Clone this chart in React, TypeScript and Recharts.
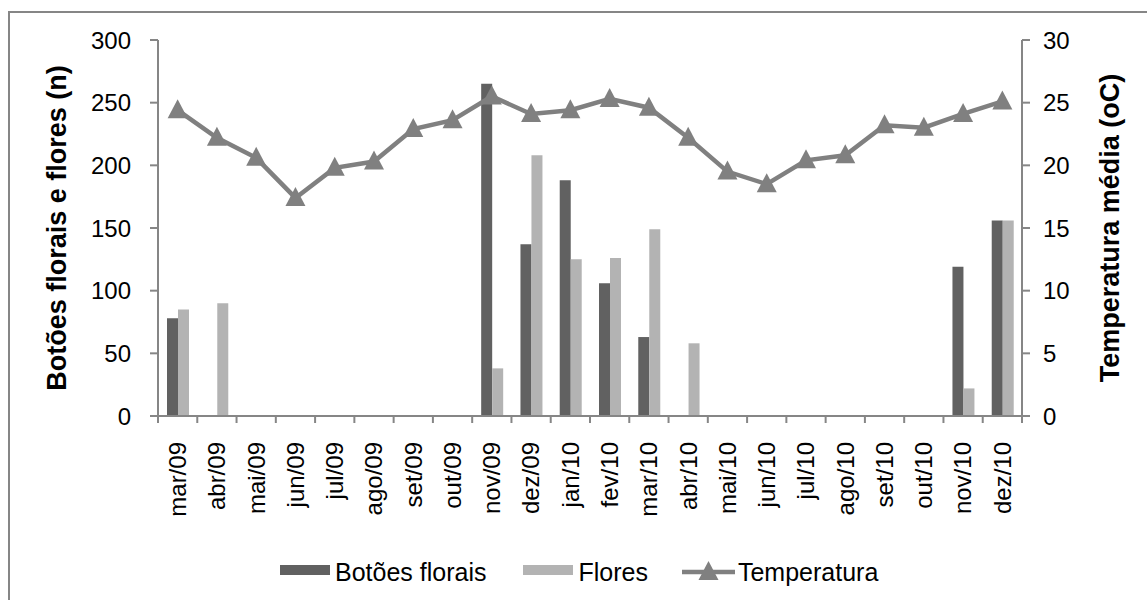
import React from 'react';
import { ComposedChart, Bar, Line, XAxis, YAxis, Legend, Label } from 'recharts';

// Monthly counts of floral buds and flowers, with mean monthly temperature
const months = [
  'mar/09', 'abr/09', 'mai/09', 'jun/09', 'jul/09', 'ago/09', 'set/09', 'out/09', 'nov/09', 'dez/09',
  'jan/10', 'fev/10', 'mar/10', 'abr/10', 'mai/10', 'jun/10', 'jul/10', 'ago/10', 'set/10', 'out/10',
  'nov/10', 'dez/10',
];
const botoesFlorais = [78, 0, 0, 0, 0, 0, 0, 0, 265, 137, 188, 106, 63, 0, 0, 0, 0, 0, 0, 0, 119, 156];
const flores = [85, 90, 0, 0, 0, 0, 0, 0, 38, 208, 125, 126, 149, 58, 0, 0, 0, 0, 0, 0, 22, 156];
const temperatura = [
  24.4, 22.2, 20.6, 17.4, 19.8, 20.3, 22.9, 23.6, 25.5, 24.1, 24.4, 25.3,
  24.6, 22.2, 19.5, 18.5, 20.4, 20.8, 23.2, 23.0, 24.1, 25.1,
];
const countTicks = [0, 50, 100, 150, 200, 250, 300];
const tempTicks = [0, 5, 10, 15, 20, 25, 30];

const data = months.map((mes, i) => ({
  mes,
  botoes: botoesFlorais[i],
  flores: flores[i],
  temperatura: temperatura[i],
}));

const FONT = '"Liberation Sans", Arial, Helvetica, sans-serif';
const AXIS = '#868686';
const DARK = '#616161';
const LIGHT = '#b3b3b3';
const LINE = '#808080';

function Triangle(props: any) {
  const { cx, cy, index } = props;
  if (cx == null || cy == null) return <g key={`t-${index}`} />;
  return (
    <path
      key={`t-${index}`}
      d={`M${cx},${cy - 11} L${cx + 10},${cy + 8} L${cx - 10},${cy + 8} Z`}
      fill={LINE}
    />
  );
}

// Category label rotated 90°, with tick marks on the category boundaries
function MonthTick(props: any) {
  const { x, y, payload, index, visibleTicksCount } = props;
  const half = payload && payload.offset ? payload.offset : 0;
  const isLast = index === visibleTicksCount - 1;
  const ty = y + 26;
  return (
    <g>
      <line x1={x - half} y1={y} x2={x - half} y2={y + 7} stroke={AXIS} strokeWidth={2} />
      {isLast && <line x1={x + half} y1={y} x2={x + half} y2={y + 7} stroke={AXIS} strokeWidth={2} />}
      <text
        x={x}
        y={ty}
        transform={`rotate(-90, ${x}, ${ty})`}
        textAnchor="end"
        dy="0.35em"
        fontSize={24}
        fontFamily={FONT}
        fill="#000"
      >
        {payload.value}
      </text>
    </g>
  );
}

function LegendContent(props: any) {
  const payload = props.payload || [];
  const icon = (entry: any) => {
    if (entry.type === 'line') {
      return (
        <svg width={53} height={24} style={{ display: 'block' }}>
          <line x1={0} y1={12} x2={53} y2={12} stroke={LINE} strokeWidth={4.5} />
          <path d="M26.5,1 L36.5,20 L16.5,20 Z" fill={LINE} />
        </svg>
      );
    }
    return <div style={{ width: 50, height: 10, background: entry.color, marginTop: -5 }} />;
  };
  return (
    <div
      style={{
        display: 'flex',
        alignItems: 'center',
        height: 40,
        paddingLeft: 280,
        fontFamily: FONT,
        fontSize: 25,
        color: '#000',
      }}
    >
      {payload.map((entry: any, i: number) => (
        <div
          key={entry.value}
          style={{ display: 'flex', alignItems: 'center', marginRight: i === 0 ? 37 : 34 }}
        >
          {icon(entry)}
          <span style={{ marginLeft: entry.type === 'line' ? 3 : 5, lineHeight: '40px' }}>{entry.value}</span>
        </div>
      ))}
    </div>
  );
}

export default function App() {
  return (
    <div
      style={{
        position: 'absolute',
        left: 0,
        top: 0,
        width: 1147,
        height: 600,
        overflow: 'hidden',
        background: '#fff',
      }}
    >
      <div
        style={{
          position: 'absolute',
          left: 8,
          top: 11,
          width: 1200,
          height: 700,
          border: `2px solid ${AXIS}`,
          boxSizing: 'border-box',
        }}
      />
      <div style={{ position: 'absolute', left: 0, top: 0 }}>
        <ComposedChart
          width={1147}
          height={600}
          data={data}
          margin={{ top: 40, right: 0, left: 0, bottom: 8 }}
          barSize={11}
          barGap={0}
        >
          <XAxis
            dataKey="mes"
            xAxisId="x"
            interval={0}
            height={136}
            tickSize={0}
            tickMargin={0}
            tickLine={false}
            axisLine={{ stroke: AXIS, strokeWidth: 2 }}
            tick={<MonthTick />}
          />
          <YAxis
            yAxisId="n"
            orientation="left"
            width={158}
            domain={[0, 300]}
            ticks={countTicks}
            interval={0}
            tickSize={8}
            tickMargin={19}
            axisLine={{ stroke: AXIS, strokeWidth: 2 }}
            tickLine={{ stroke: AXIS, strokeWidth: 2 }}
            tick={{ fontSize: 24, fill: '#000', fontFamily: FONT }}
          >
            <Label
              value="Botões florais e flores (n)"
              angle={-90}
              position="center"
              dx={-23}
              style={{ fontSize: 27, fontWeight: 700, fill: '#000', fontFamily: FONT }}
            />
          </YAxis>
          <YAxis
            yAxisId="t"
            orientation="right"
            width={125}
            domain={[0, 30]}
            ticks={tempTicks}
            interval={0}
            tickSize={8}
            tickMargin={13}
            axisLine={{ stroke: AXIS, strokeWidth: 2 }}
            tickLine={{ stroke: AXIS, strokeWidth: 2 }}
            tick={{ fontSize: 24, fill: '#000', fontFamily: FONT }}
          >
            <Label
              value="Temperatura média (oC)"
              angle={-90}
              position="center"
              dx={25}
              style={{ fontSize: 27, fontWeight: 700, fill: '#000', fontFamily: FONT }}
            />
          </YAxis>
          <Legend
            verticalAlign="bottom"
            height={40}
            content={<LegendContent />}
            wrapperStyle={{ left: 0, width: 1147 }}
          />
          <Bar
            xAxisId="x"
            yAxisId="n"
            dataKey="botoes"
            name="Botões florais"
            fill={DARK}
            legendType="rect"
            isAnimationActive={false}
          />
          <Bar
            xAxisId="x"
            yAxisId="n"
            dataKey="flores"
            name="Flores"
            fill={LIGHT}
            legendType="rect"
            isAnimationActive={false}
          />
          <Line
            xAxisId="x"
            yAxisId="t"
            dataKey="temperatura"
            name="Temperatura"
            type="linear"
            stroke={LINE}
            strokeWidth={4.5}
            dot={(p: any) => <Triangle {...p} key={`t-${p.index}`} />}
            activeDot={false}
            legendType="line"
            isAnimationActive={false}
          />
        </ComposedChart>
      </div>
    </div>
  );
}
